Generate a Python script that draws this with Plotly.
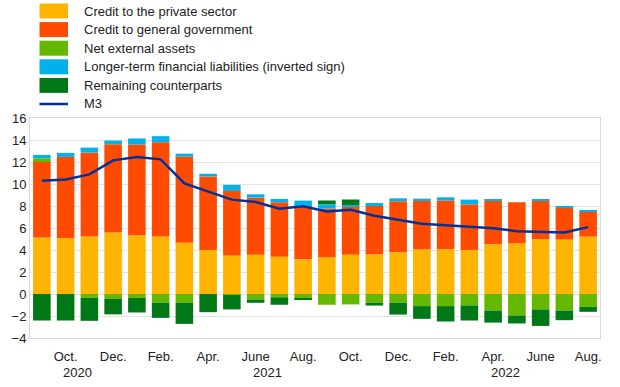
import plotly.graph_objects as go

months = ["Sep 2020", "Oct 2020", "Nov 2020", "Dec 2020", "Jan 2021", "Feb 2021",
          "Mar 2021", "Apr 2021", "May 2021", "Jun 2021", "Jul 2021", "Aug 2021",
          "Sep 2021", "Oct 2021", "Nov 2021", "Dec 2021", "Jan 2022", "Feb 2022",
          "Mar 2022", "Apr 2022", "May 2022", "Jun 2022", "Jul 2022", "Aug 2022"]

private_credit = [5.13, 5.10, 5.22, 5.59, 5.34, 5.22, 4.67, 4.00, 3.51, 3.57, 3.39, 3.15,
                  3.33, 3.57, 3.60, 3.79, 4.06, 4.09, 4.00, 4.52, 4.61, 4.98, 4.95, 5.22]
gov_credit = [6.87, 7.36, 7.63, 8.03, 8.25, 8.58, 7.82, 6.69, 5.86, 5.19, 4.95, 4.85,
              4.43, 4.40, 4.40, 4.64, 4.43, 4.40, 4.15, 3.97, 3.73, 3.51, 2.90, 2.29]
net_external = [0.34, 0.0, -0.34, -0.45, -0.35, -0.80, -0.80, 0.0, -0.10, -0.50, -0.30, -0.45,
                -0.98, -0.95, -0.80, -0.80, -1.10, -1.10, -1.04, -1.50, -1.95, -1.40, -1.50, -1.17]
longer_term = [0.30, 0.37, 0.46, 0.33, 0.55, 0.55, 0.27, 0.24, 0.55, 0.30, 0.30, 0.49,
               0.40, 0.12, 0.27, 0.27, 0.18, 0.30, 0.43, 0.09, 0.0, 0.09, 0.09, 0.12]
remaining = [-2.41, -2.41, -2.10, -1.40, -1.33, -1.37, -1.92, -1.65, -1.30, -0.30, -0.68, -0.10,
             0.34, 0.50, -0.25, -1.07, -1.16, -1.40, -1.37, -1.10, -0.73, -1.50, -0.88, -0.45]
m3 = [10.29, 10.41, 10.87, 12.15, 12.46, 12.24, 10.05, 9.34, 8.58, 8.37, 7.76, 7.97,
      7.51, 7.66, 7.11, 6.75, 6.38, 6.26, 6.14, 5.98, 5.71, 5.68, 5.59, 6.08]

tick_months = months[1::2]
tick_text = ["Oct.", "Dec.", "Feb.", "Apr.", "June", "Aug.",
             "Oct.", "Dec.", "Feb.", "Apr.", "June", "Aug."]
year_labels = ["2020", "2021", "2022"]
year_pos = [1.5, 9.5, 19.5]

FONT = "Liberation Sans, Arial, sans-serif"
TXT = "#222222"

W, H = 620, 387
ML, MR, MT, MB = 30, 20, 118, 49
PW, PH = W - ML - MR, H - MT - MB


def px_x(px):
    return (px - ML) / PW


def px_y(py):
    return (H - MB - py) / PH


fig = go.Figure()
series = [
    ("Credit to the private sector", private_credit, "#FFB400"),
    ("Credit to general government", gov_credit, "#FF4B00"),
    ("Net external assets", net_external, "#65B800"),
    ("Longer-term financial liabilities (inverted sign)", longer_term, "#00B1EA"),
    ("Remaining counterparts", remaining, "#007816"),
]
for name, vals, col in series:
    fig.add_trace(go.Bar(x=months, y=vals, name=name, marker_color=col,
                         marker_line_width=0))
fig.add_trace(go.Scatter(x=months, y=m3, name="M3", mode="lines",
                         line=dict(color="#003299", width=2.5)))

# custom legend (swatches + labels) above the plot
legend_items = [(n, c, "bar") for n, _, c in series] + [("M3", "#003299", "line")]
row0, step = 11.0, 18.6
for i, (name, col, kind) in enumerate(legend_items):
    cy = row0 + i * step
    if kind == "bar":
        fig.add_shape(type="rect", xref="paper", yref="paper",
                      x0=px_x(39.5), x1=px_x(68), y0=px_y(cy - 7.5), y1=px_y(cy + 7.5),
                      fillcolor=col, line=dict(width=0))
    else:
        fig.add_shape(type="line", xref="paper", yref="paper",
                      x0=px_x(39.5), x1=px_x(68), y0=px_y(cy), y1=px_y(cy),
                      line=dict(color=col, width=2.5))
    fig.add_annotation(x=px_x(82), y=px_y(cy), xref="paper", yref="paper",
                       text=name, showarrow=False, xanchor="left", yanchor="middle",
                       font=dict(family=FONT, size=13, color=TXT))

for lab, pos in zip(year_labels, year_pos):
    fig.add_annotation(x=pos, y=0, xref="x", yref="paper", text=lab,
                       showarrow=False, yanchor="middle", yshift=-34.5,
                       font=dict(family=FONT, size=13, color=TXT))

fig.update_layout(
    width=W, height=H,
    barmode="relative", bargap=0.26,
    paper_bgcolor="white", plot_bgcolor="white",
    margin=dict(l=ML, r=MR, t=MT, b=MB, autoexpand=False),
    font=dict(family=FONT, size=13, color=TXT),
    showlegend=False,
)
fig.update_xaxes(type="category", tickmode="array", tickvals=tick_months, ticktext=tick_text,
                 showgrid=False, showline=True, mirror=True, linecolor="#d9d9d9",
                 linewidth=1, ticks="", range=[-0.5, 23.5], ticklabelstandoff=6)
fig.update_yaxes(range=[-4, 16], dtick=2, showgrid=True, gridcolor="#e3e3e3",
                 zeroline=False, showline=True, mirror=True, linecolor="#d9d9d9",
                 linewidth=1, ticks="")

fig.write_html("out.html", config={"displayModeBar": False},
               post_script="document.body.style.margin='0';document.body.style.overflow='hidden';")
